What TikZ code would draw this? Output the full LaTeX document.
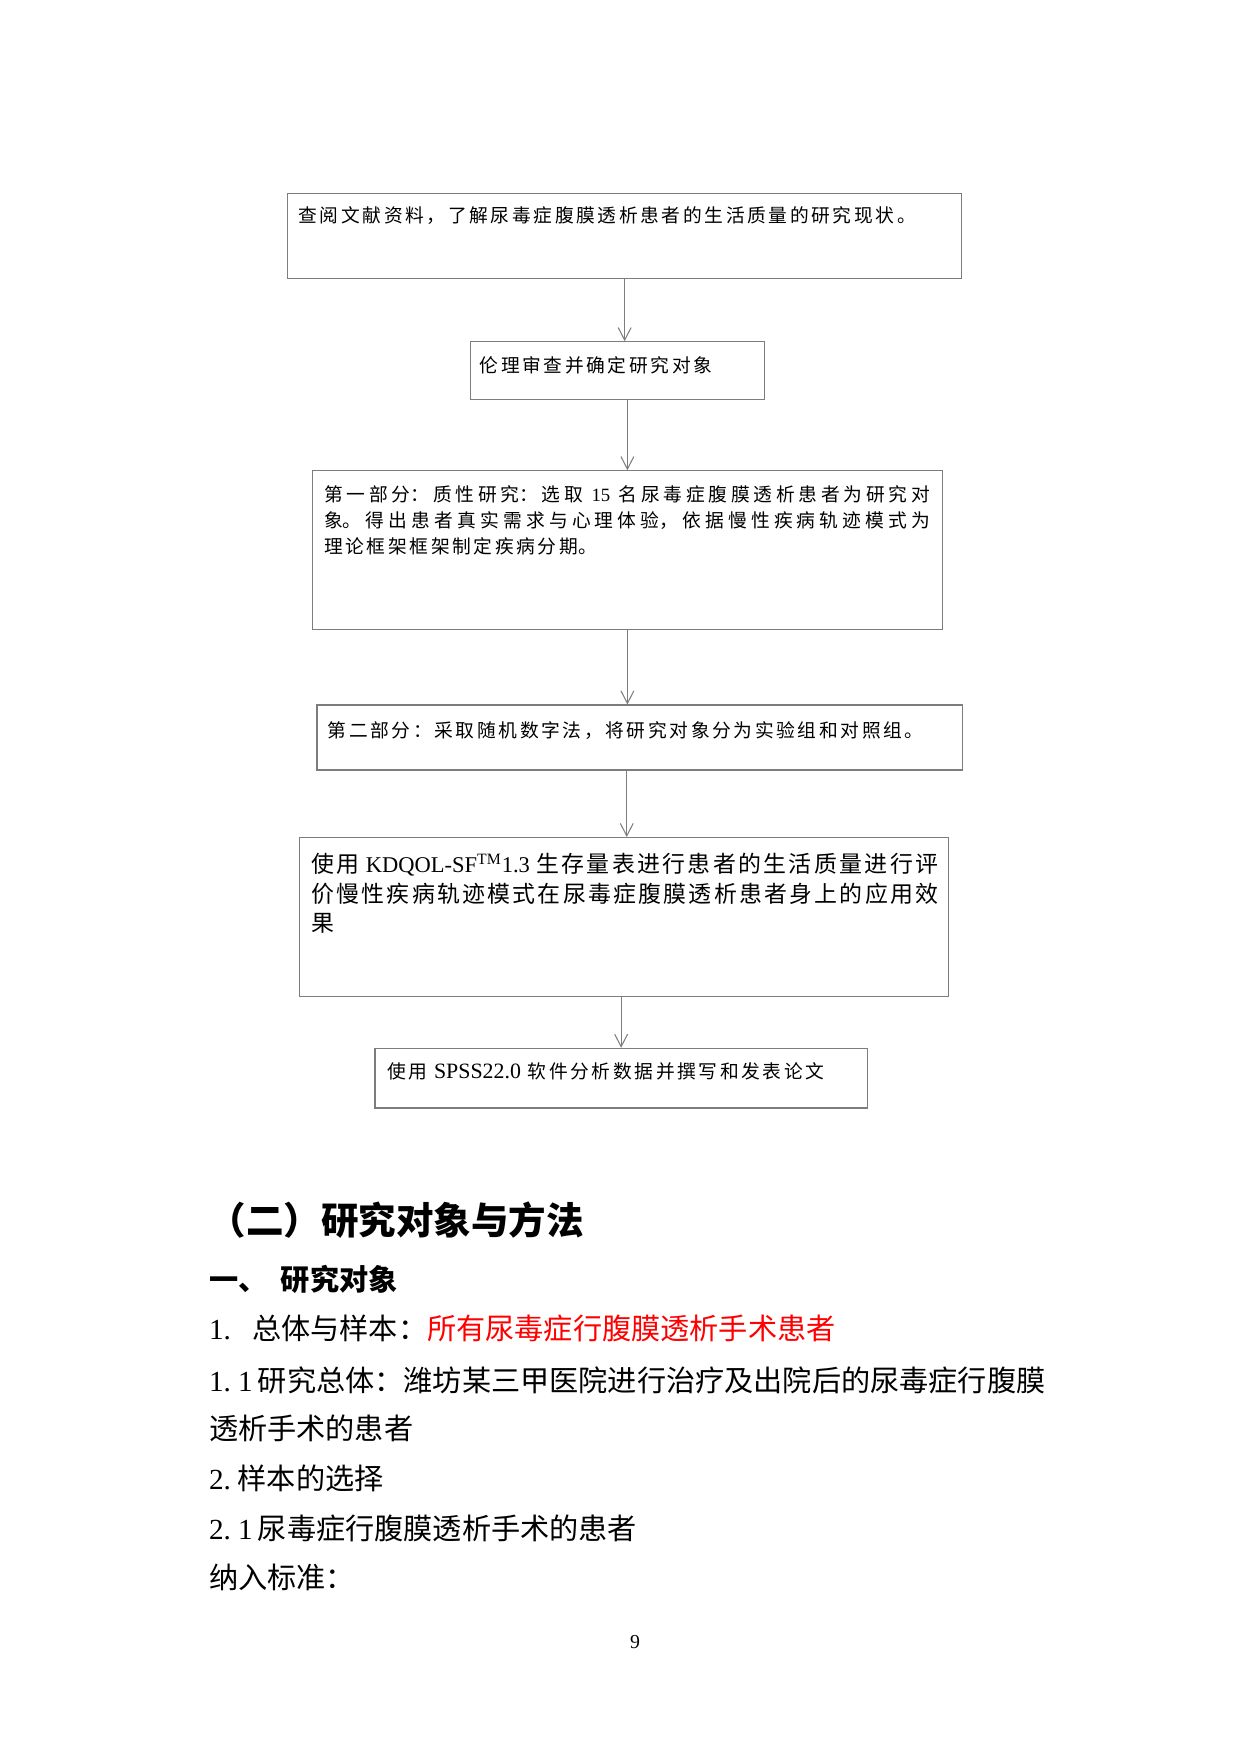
\documentclass[tikz,border=0pt]{standalone}
\usepackage{fontspec}
\setmainfont{Liberation Serif}
\newfontfamily\cjk{Noto Sans CJK SC}
\newfontfamily\cjkbox[LetterSpace=14]{Noto Sans CJK SC}
\usetikzlibrary{arrows.meta,fit}
\XeTeXlinebreaklocale "zh"
\XeTeXlinebreakskip=0pt plus 3pt
\definecolor{boxgray}{RGB}{125,125,125}
\newcommand\hw[1]{\makebox[6.94bp][l]{#1}}
\tikzset{
  box/.style={draw=boxgray, line width=0.5bp, inner sep=0pt},
  arr/.style={draw=boxgray, line width=0.5bp, -{Straight Barb[length=6bp,width=6.2bp]}},
  bt/.style={anchor=base west, inner sep=0pt, font=\cjkbox\fontsize{9bp}{12.5bp}\selectfont},
  bpar/.style={anchor=base west, inner sep=0pt, align=justify},
  body/.style={anchor=base west, inner sep=0pt, font=\cjk\fontsize{14bp}{16bp}\selectfont},
  bodyb/.style={anchor=base west, inner sep=0pt, font=\cjk\bfseries\fontsize{14bp}{16bp}\selectfont},
  num/.style={anchor=base west, inner sep=0pt, font=\rmfamily\fontsize{14bp}{16bp}\selectfont}
}
\begin{document}
\begin{tikzpicture}[x=0.48bp,y=-0.48bp]
\fill[white] (0,0) rectangle (1240,1754);
\path[use as bounding box] (0,0) rectangle (1240,1754);

% flowchart boxes
\node[box, fit={(287.6,193.3) (961.7,278.3)}] (b1) {};
\node[bt] (t1) at (298.2,222.1) {查阅文献资料，了解尿毒症腹膜透析患者的生活质量的研究现状。};

\node[box, fit={(470.2,341.7) (764.3,399.3)}] (b2) {};
\node[bt] (t2) at (479.3,372.6) {伦理审查并确定研究对象};

\node[box, fit={(312.5,470.7) (942.3,629.7)}] (b3) {};
\node[bpar, text width=290.9bp, font={\cjk\fontsize{9bp}{12.5bp}\selectfont\XeTeXlinebreakskip=1.26bp plus 3bp}] (t3) at (323.8,501.6) {第一部分：质性研究：选取\hspace{4bp}{\rmfamily 15}\hspace{4bp}名尿毒症腹膜透析患者为研究对\linebreak 象。得出患者真实需求与心理体验，依据慢性疾病轨迹模式为\linebreak 理论框架框架制定疾病分期。};

\node[box, fit={(317,705) (962.3,770)}] (bB) {};
\node[bt] (tB) at (327.3,737.1) {第二部分：采取随机数字法，将研究对象分为实验组和对照组。};

\node[box, fit={(299.8,837.5) (948.3,996.7)}] (b4) {};
\node[bpar, text width=300.9bp, font={\cjk\fontsize{11bp}{14.2bp}\selectfont\XeTeXlinebreakskip=0.8bp plus 3bp}] (t4) at (311,872.7) {使用\hspace{3bp}{\rmfamily\fontsize{10.8bp}{13bp}\selectfont KDQOL-SF\textsuperscript{TM}1.3}\hspace{3bp}生存量表进行患者的生活质量进行评\linebreak 价慢性疾病轨迹模式在尿毒症腹膜透析患者身上的应用效\linebreak 果};

\node[box, fit={(375,1048.3) (867.3,1108)}] (b5) {};
\node[bt] (t5) at (386.7,1078.8) {使用 {\rmfamily\fontsize{10.5bp}{12bp}\selectfont SPSS22.0} 软件分析数据并撰写和发表论文};

% connectors
\draw[arr] (b1.south) -- (b1.south |- b2.north);
\draw[arr] (b3.north |- b2.south) -- (b3.north);
\draw[arr] (b3.south) -- (b3.south |- bB.north);
\draw[arr] ([xshift=1.3bp]b4.north |- bB.south) -- ([xshift=1.3bp]b4.north);
\draw[arr] (b5.north |- b4.south) -- (b5.north);

% body text
\node[anchor=base west, inner sep=0pt, font=\cjk\bfseries\fontsize{18bp}{20bp}\selectfont] (h1) at (208.5,1234) {（二）研究对象与方法};
\node[bodyb] (h2a) at (208.7,1290) {一、};
\node[bodyb] (h2b) at (280.5,1290) {研究对象};
\node[num] (n1) at (208.7,1339) {\hw{1}\hw{.}};
\node[body] (l1) at (251.8,1339) {总体与样本：\textcolor{red}{所有尿毒症行腹膜透析手术患者}};
\node[num] (n11) at (208.7,1391) {\hw{1}\hw{.}\hw{1}};
\node[body] (l2) at (257.5,1391) {研究总体：潍坊某三甲医院进行治疗及出院后的尿毒症行腹膜};
\node[body] (l3) at (208.7,1439) {透析手术的患者};
\node[num] (n2) at (208.7,1489) {\hw{2}\hw{.}};
\node[body] (l4) at (237.4,1489) {样本的选择};
\node[num] (n21) at (208.7,1539) {\hw{2}\hw{.}\hw{1}};
\node[body] (l5) at (257.5,1539) {尿毒症行腹膜透析手术的患者};
\node[body] (l6) at (208.7,1588) {纳入标准：};
\node[anchor=base, inner sep=0pt, font=\rmfamily\fontsize{9.5bp}{11bp}\selectfont] (pg) at (635,1648.3) {9};
\end{tikzpicture}
\end{document}
